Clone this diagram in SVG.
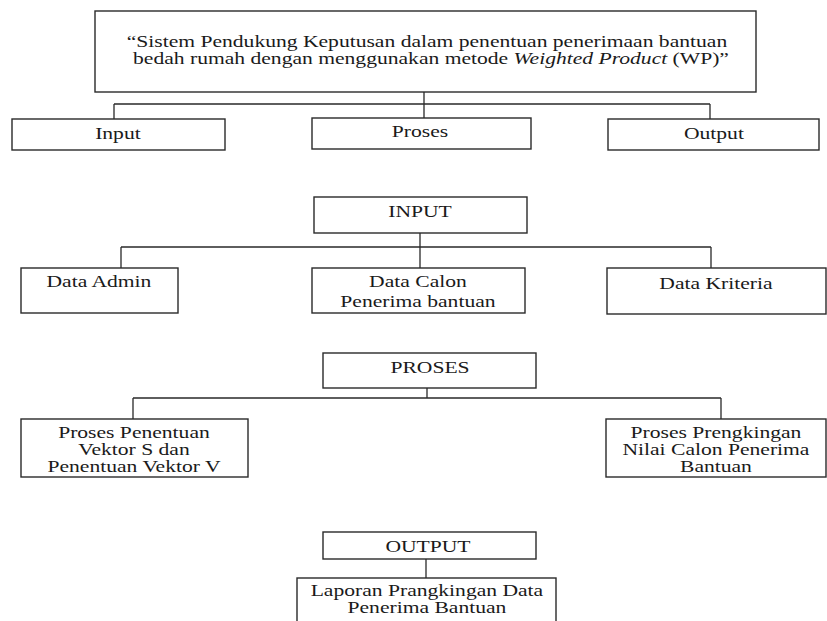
<svg xmlns="http://www.w3.org/2000/svg" width="827" height="621" viewBox="0 0 827 621">
<style>
  .box { fill: #ffffff; stroke: #2a2a2a; stroke-width: 1.4; }
  .con { fill: none; stroke: #2a2a2a; stroke-width: 1.3; }
  .t { font-family: 'Liberation Serif', 'Times New Roman', 'DejaVu Serif', serif; font-size: 17px; fill: #1a1a1a; text-anchor: middle; transform-box: fill-box; transform-origin: center; transform: scaleX(1.27); }
</style>
<rect width="827" height="621" fill="#ffffff"/>
<g id="connectors">
  <path class="con" d="M424 92 V118 M114 104 H710 M114 104 V119 M710 104 V119"/>
  <path class="con" d="M420 233 V268 M121 247 H711 M121 247 V268 M711 247 V268"/>
  <path class="con" d="M427 388 V398 M133 398 H721 M133 398 V419 M721 398 V419"/>
  <path class="con" d="M426 559 V578"/>
</g>
<g id="title" font-family="Liberation Serif, serif">
  <rect class="box" x="95" y="11" width="661" height="81"/>
  <text class="t" x="427" y="47">“Sistem Pendukung Keputusan dalam penentuan penerimaan bantuan</text>
  <text class="t" x="431" y="64">bedah rumah dengan menggunakan metode <tspan font-style="italic">Weighted Product</tspan> (WP)”</text>
</g>
<g id="input">
  <rect class="box" x="12" y="119" width="213" height="31"/>
  <text class="t" x="118" y="139">Input</text>
</g>
<g id="proses">
  <rect class="box" x="312" y="118" width="219" height="31"/>
  <text class="t" x="420" y="137">Proses</text>
</g>
<g id="output">
  <rect class="box" x="608" y="119" width="211" height="31"/>
  <text class="t" x="714" y="139">Output</text>
</g>
<g id="input-head">
  <rect class="box" x="314" y="197" width="213" height="36"/>
  <text class="t" x="420" y="217">INPUT</text>
</g>
<g id="data-admin">
  <rect class="box" x="21" y="268" width="157" height="45"/>
  <text class="t" x="99" y="287">Data Admin</text>
</g>
<g id="data-calon">
  <rect class="box" x="312" y="268" width="213" height="45"/>
  <text class="t" x="418" y="287">Data Calon</text>
  <text class="t" x="418" y="307">Penerima bantuan</text>
</g>
<g id="data-kriteria">
  <rect class="box" x="607" y="268" width="219" height="46"/>
  <text class="t" x="716" y="289">Data Kriteria</text>
</g>
<g id="proses-head">
  <rect class="box" x="323" y="353" width="213" height="35"/>
  <text class="t" x="430" y="373">PROSES</text>
</g>
<g id="proses-vektor">
  <rect class="box" x="21" y="419" width="227" height="58"/>
  <text class="t" x="134" y="438">Proses Penentuan</text>
  <text class="t" x="134" y="455">Vektor S dan</text>
  <text class="t" x="134" y="472">Penentuan Vektor V</text>
</g>
<g id="proses-rangking">
  <rect class="box" x="606" y="419" width="220" height="58"/>
  <text class="t" x="716" y="438">Proses Prengkingan</text>
  <text class="t" x="716" y="455">Nilai Calon  Penerima</text>
  <text class="t" x="716" y="472">Bantuan</text>
</g>
<g id="output-head">
  <rect class="box" x="323" y="532" width="213" height="27"/>
  <text class="t" x="428" y="552">OUTPUT</text>
</g>
<g id="laporan">
  <rect class="box" x="297" y="578" width="259" height="60"/>
  <text class="t" x="427" y="596">Laporan Prangkingan Data</text>
  <text class="t" x="427" y="613">Penerima Bantuan</text>
</g>
</svg>
